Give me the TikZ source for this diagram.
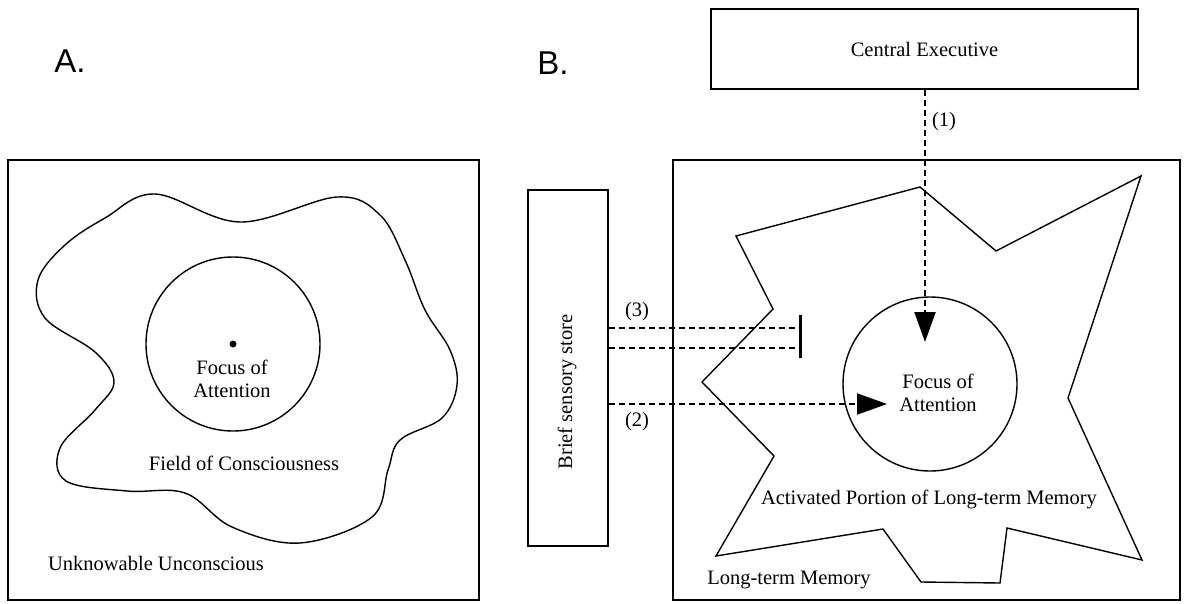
\documentclass[tikz,border=0pt]{standalone}
\usepackage{fontspec}
\setmainfont{Liberation Serif}
\newfontfamily\labelfont{Liberation Sans}
\usetikzlibrary{arrows.meta}
\tikzset{
  box/.style={draw, line width=1.4pt, inner sep=0pt},
  outline/.style={draw, line width=1.4pt},
  txt/.style={inner sep=0pt, align=center, font=\fontsize{20.5}{23}\selectfont},
  panellabel/.style={inner sep=0pt, font=\labelfont\fontsize{33}{36}\selectfont},
  dashline/.style={line width=2.2pt, dash pattern=on 6pt off 4pt},
  dasharrow/.style={dashline, -{Triangle[length=30pt,width=21pt]}},
  barline/.style={line width=3pt},
}
\begin{document}
\begin{tikzpicture}[x=1pt,y=-1pt]
\useasboundingbox (0,0) rectangle (1185,603);
% panel labels
\node[panellabel] (la) at (70,61) {A.};
\node[panellabel] (lb) at (553,63) {B.};
% ---------- Panel A ----------
\node[box, minimum width=471pt, minimum height=440pt] (pa) at (243.5,380) {};
\draw[outline] plot[smooth cycle, tension=0.6] coordinates {
  (155,194) (240,222) (337,197) (380,215) (405,260) (425,310) (450,350) (457,385)
  (442,418) (400,440) (388,470) (372,517) (300,543) (232,527) (185,493)
  (127,491) (66,481) (60,448) (95,410) (114,382) (95,352) (45,318) (38,280)
  (65,245) (105,218)};
\node[outline, circle, minimum size=174pt, inner sep=0pt] (fa) at (233,344) {};
\fill (fa.center) circle (3.5pt);
\node[txt] (fatxt) at (232,379) {Focus of\\Attention};
\node[txt] (foc) at (244,463) {Field of Consciousness};
\node[txt] (unk) at (156,563) {Unknowable Unconscious};
% ---------- Panel B ----------
\node[box, minimum width=427pt, minimum height=80pt] (ce) at (924.5,49) {};
\node[txt] (cetxt) at (ce.center) {Central Executive};
\node[box, minimum width=507pt, minimum height=440pt] (ltm) at (926.5,380) {};
\node[box, minimum width=80pt, minimum height=356pt] (bss) at (568,368) {};
\node[txt, rotate=90] (bsstxt) at (567,392) {Brief sensory store};
\draw[outline, line join=miter] (920,187) -- (996,251) -- (1141,176) -- (1068,398)
  -- (1142,560) -- (1007,528) -- (1000,583) -- (921,582) -- (883,529)
  -- (716,556) -- (774,456) -- (702,382) -- (773,309) -- (736,236) -- cycle;
\node[outline, circle, minimum size=174pt, inner sep=0pt] (fb) at (930,384) {};
\node[txt] (fbtxt) at (938,393) {Focus of\\Attention};
\node[txt] (act) at (929,499) {Activated Portion of Long-term Memory};
\node[txt] (ltmtxt) at (789,580) {Long-term Memory};
% connectors
\coordinate (t1) at (925,342);
\draw[dasharrow] (ce.south -| t1) -- (t1);
\node[txt] (l1) at (944,122) {(1)};
\coordinate (bartop) at (800,315);
\coordinate (barbot) at (800,358);
\draw[barline] (bartop) -- (barbot);
\draw[dashline] (bss.east |- 0,328) -- (bartop |- 0,328);
\draw[dashline] (bss.east |- 0,348) -- (bartop |- 0,348);
\node[txt] (l3) at (637,312) {(3)};
\coordinate (t2) at (887,404);
\draw[dasharrow] (bss.east |- t2) -- (t2);
\node[txt] (l2) at (637,422) {(2)};
\end{tikzpicture}
\end{document}
